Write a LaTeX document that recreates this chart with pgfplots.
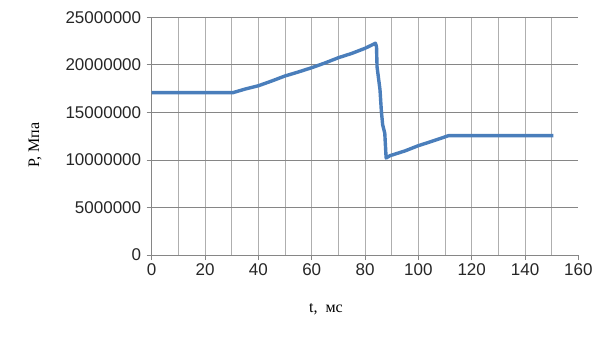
\documentclass[border=0pt]{standalone}
\usepackage{fontspec}
\setmainfont{Liberation Sans}
\newfontfamily\seriffont{Liberation Serif}
\usepackage{pgfplots}
\pgfplotsset{compat=1.18}
\definecolor{lineblue}{RGB}{74,126,187}
\definecolor{hgrid}{RGB}{134,134,134}
\definecolor{vgrid}{RGB}{175,175,175}
\begin{document}
\begin{tikzpicture}
\useasboundingbox (-151.7pt,-85pt) rectangle (453.3pt,255pt);
\begin{axis}[
  at={(0pt,0pt)}, anchor=south west,
  scale only axis, width=426.7pt, height=237.7pt,
  xmin=0, xmax=160, ymin=0, ymax=25000000,
  axis x line=bottom, axis y line=left,
  axis line style={draw=hgrid, line width=0.8pt, -},
  xtick={0,20,...,160},
  minor xtick={10,20,...,150},
  ytick={0,5000000,...,25000000},
  xmajorgrids=false, xminorgrids=true, ymajorgrids=true,
  minor grid style={draw=vgrid, line width=0.8pt},
  major grid style={draw=hgrid, line width=0.8pt},
  tick style={draw=hgrid, line width=0.8pt},
  major tick length=5pt, minor tick length=0pt,
  tick align=outside,
  scaled y ticks=false,
  yticklabel style={/pgf/number format/fixed, /pgf/number format/1000 sep={}, xshift=-2pt},
  /pgf/number format/assume math mode=true,
  ticklabel style={font=\fontsize{17}{19}\selectfont, text=black!85},
  xlabel={\seriffont t,\ \ мс}, ylabel={\seriffont P, Мпа},
  label style={font=\fontsize{16}{18}\selectfont},
  xlabel style={at={(axis description cs:0.4085,-0.227)}, anchor=center},
  ylabel style={at={(axis description cs:-0.2735,0.463)}, anchor=center},
  clip=false,
]
\addplot[lineblue, line width=3.4pt, line join=round] coordinates {
(0,17070000) (30.4,17070000) (35,17450000) (40,17800000) (45,18300000)
(50,18830000) (55,19250000) (60,19700000) (65,20200000) (70,20750000)
(75,21200000) (80,21740000) (83.9,22270000) (84.3,21900000) (84.5,19800000)
(85,18700000) (85.6,17400000) (86.1,15200000) (86.6,13700000) (87.4,12800000)
(87.9,10200000) (89.4,10450000) (95,10950000) (100,11500000) (105,11950000)
(111.3,12550000) (150.6,12550000)
};
\end{axis}
\end{tikzpicture}
\end{document}
